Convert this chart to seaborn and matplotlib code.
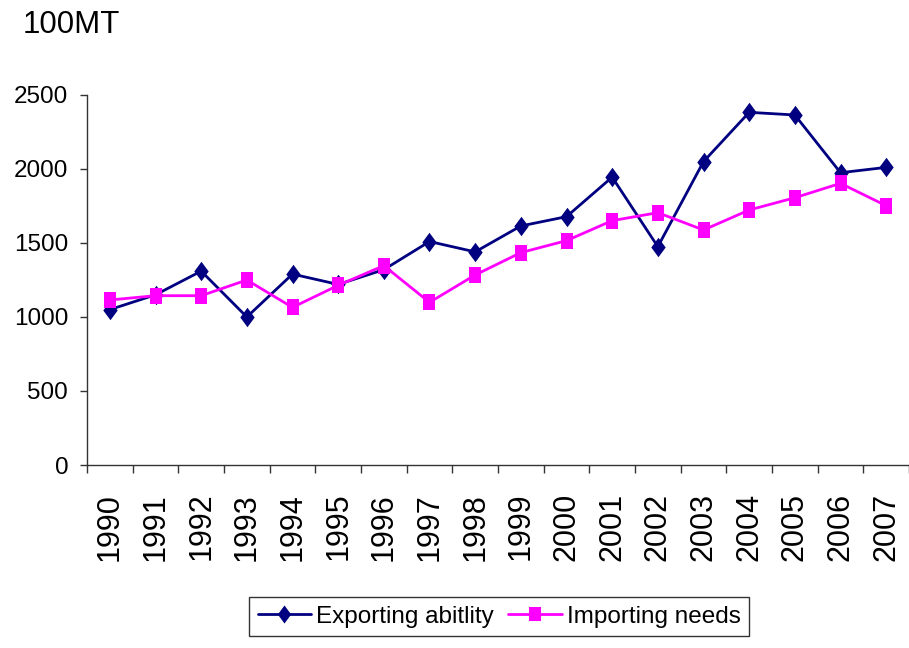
import matplotlib
matplotlib.use("Agg")
import matplotlib.pyplot as plt
from matplotlib.path import Path
from matplotlib.ticker import FixedLocator
import seaborn as sns
import pandas as pd

years = [str(y) for y in range(1990, 2008)]
exporting = [1050, 1150, 1310, 1000, 1290, 1220, 1320, 1510, 1440, 1615,
             1678, 1945, 1475, 2050, 2383, 2365, 1975, 2011]
importing = [1115, 1144, 1144, 1250, 1065, 1214, 1347, 1099, 1284, 1435,
             1516, 1651, 1705, 1588, 1723, 1806, 1903, 1752]
series_names = ["Exporting abitlity", "Importing needs"]
y_ticks = [0, 500, 1000, 1500, 2000, 2500]
unit_label = "100MT"

sns.set_theme(style="white")
plt.rcParams["font.family"] = ["Liberation Sans", "DejaVu Sans"]
plt.rcParams["text.color"] = "black"
plt.rcParams["xtick.color"] = "black"
plt.rcParams["ytick.color"] = "black"

# slightly tall diamond and square markers
diamond = Path([(0, 1), (0.74, 0), (0, -1), (-0.74, 0), (0, 1)],
               [Path.MOVETO, Path.LINETO, Path.LINETO, Path.LINETO, Path.CLOSEPOLY])
square = Path([(-0.8, -1), (0.8, -1), (0.8, 1), (-0.8, 1), (-0.8, -1)],
              [Path.MOVETO, Path.LINETO, Path.LINETO, Path.LINETO, Path.CLOSEPOLY])

colors = ["#000080", "#FF00FF"]
markers = [diamond, square]
msizes = [14, 11]

fig = plt.figure(figsize=(9.09, 6.48), dpi=100)
ax = fig.add_axes([87 / 909, 1 - 465 / 648, 1 - 87 / 909, (465 - 95) / 648])

for name, vals, c, m, ms in zip(series_names, [exporting, importing],
                                colors, markers, msizes):
    sns.lineplot(x=years, y=vals, color=c, marker=m, markersize=ms,
                 markeredgewidth=0, linewidth=2.0, sort=False, ax=ax,
                 label=name, legend=False)

ax.set_xlim(-0.5, len(years) - 0.5)
ax.set_ylim(0, 2500)
ax.set_yticks(y_ticks)
ax.set_xlabel("")
ax.set_ylabel("")

for side in ["top", "right"]:
    ax.spines[side].set_visible(False)
for side in ["left", "bottom"]:
    ax.spines[side].set_color("#333333")
    ax.spines[side].set_linewidth(1.0)

ax.tick_params(axis="y", which="major", left=True, length=5, width=1,
               color="#333333", pad=8.5, labelsize=17.5, labelcolor="black")

ax.set_xticks(range(len(years)))
ax.set_xticklabels(years, rotation=90, fontsize=22)
ax.tick_params(axis="x", which="major", bottom=True, length=0, pad=20,
               labelcolor="black")
ax.xaxis.set_minor_locator(FixedLocator([i - 0.5 for i in range(len(years) + 1)]))
ax.tick_params(axis="x", which="minor", bottom=True, length=6, width=1,
               color="#333333")

fig.text(23 / 909, 1 - 33 / 648, unit_label, fontsize=22.5,
         ha="left", va="baseline", color="black")

handles = [
    plt.Line2D([], [], color=colors[0], lw=2.0, marker=diamond, markersize=13,
               markeredgewidth=0),
    plt.Line2D([], [], color=colors[1], lw=2.0, marker=square, markersize=10,
               markeredgewidth=0),
]
leg = fig.legend(handles, series_names, loc="upper center",
                 bbox_to_anchor=(499 / 909, 1 - 597 / 648), ncol=2,
                 frameon=True, fancybox=False, edgecolor="black",
                 prop={"size": 17.5},
                 handlelength=2.2, handletextpad=0.2, columnspacing=0.6,
                 borderpad=0.35, borderaxespad=0)
leg.get_frame().set_linewidth(1.0)

fig.savefig("out.png", dpi=100)
